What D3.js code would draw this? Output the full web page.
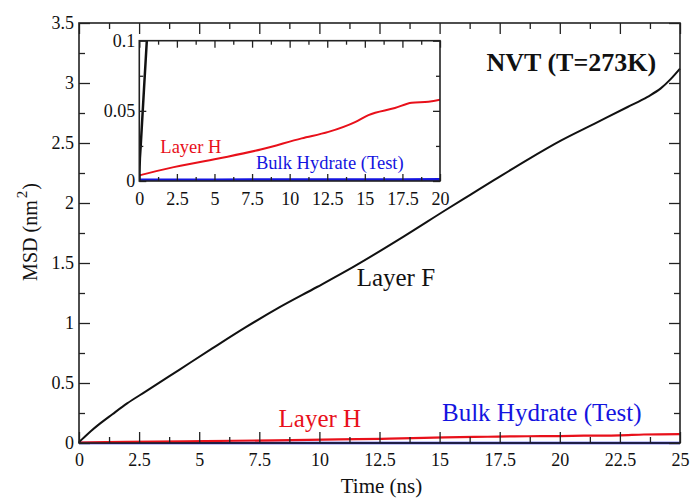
<!DOCTYPE html>
<html>
<head>
<meta charset="utf-8">
<script src="https://cdn.jsdelivr.net/npm/d3@7"></script>
<style>
  body { margin: 0; background: #fff; }
  svg { display: block; }
  svg text { font-family: "Liberation Serif", "Times New Roman", serif; }
</style>
</head>
<body>
<svg width="692" height="498"></svg>
<script>
// Layer F (black) - time in ns, MSD in nm^2
let timeF = [0, 0.02, 0.1, 0.25, 0.5, 0.83, 1.39, 2.0, 2.78, 4.17, 5.56, 6.94, 8.33, 9.9, 11.43, 13.5, 15.32, 16.29, 17.26, 18.65, 20.04, 21.43, 22.82, 23.65, 24.2, 24.6, 25];
let msdF = [0, 0.01, 0.026, 0.054, 0.1, 0.155, 0.24, 0.33, 0.43, 0.61, 0.79, 0.965, 1.13, 1.3, 1.47, 1.72, 1.95, 2.07, 2.19, 2.36, 2.52, 2.66, 2.8, 2.885, 2.955, 3.03, 3.12];

// Layer H (red)
let timeH = [0, 1.93, 5.26, 8.14, 10.8, 12.58, 14.35, 15.24, 17.0, 18.12, 19.23, 20, 21, 22.5, 23.5, 25];
let msdH = [0.004, 0.009, 0.016, 0.0226, 0.0304, 0.035, 0.042, 0.047, 0.052, 0.0558, 0.0565, 0.058, 0.061, 0.064, 0.071, 0.074];

// Bulk Hydrate (Test) (blue)
let timeB = [0, 5, 10, 15, 20, 25];
let msdB = [0.0008, 0.0008, 0.0009, 0.0009, 0.001, 0.001];

// tick labels
let xTicks = [0, 2.5, 5, 7.5, 10, 12.5, 15, 17.5, 20, 22.5, 25];
let yTicks = [0, 0.5, 1, 1.5, 2, 2.5, 3, 3.5];
let insetXTicks = [0, 2.5, 5, 7.5, 10, 12.5, 15, 17.5, 20];
let insetYTicks = [0, 0.05, 0.1];

let red = '#e8101a';
let blue = '#1414e0';

let svg = d3.select('svg');

let zip = (xs, ys) => xs.map((t, i) => [t, ys[i]]);
let seriesF = zip(timeF, msdF);
let seriesH = zip(timeH, msdH);
let seriesB = zip(timeB, msdB);

// minor ticks halfway between the majors
let minors = (ticks) => ticks.slice(1).map((t, i) => (t + ticks[i]) / 2);

// ---------- main plot ----------
let plotLeft = 79, plotRight = 680, plotTop = 23, plotBottom = 443;
let xScale = d3.scaleLinear().domain([0, 25]).range([plotLeft, plotRight]);
let yScale = d3.scaleLinear().domain([0, 3.5]).range([plotBottom, plotTop]);

let drawAxes = (g, xs, ys, xt, yt, major, minor, padX, padY, fontSize) => {
    let x0 = xs.range()[0], x1 = xs.range()[1];
    let y0 = ys.range()[0], y1 = ys.range()[1];
    let fmt = (d) => String(d);

    let addAxis = (axis, transform, labels) => {
        let a = g.append('g').attr('transform', transform).call(axis);
        a.attr('font-family', null).attr('font-size', null);
        a.select('.domain').remove();
        a.selectAll('line').attr('stroke', '#222').attr('stroke-width', 1.3);
        a.selectAll('text')
            .style('font-family', '"Liberation Serif", "Times New Roman", serif')
            .style('font-size', fontSize + 'px')
            .attr('fill', '#111');
        if (!labels) a.selectAll('text').remove();
    };

    // bottom
    addAxis(d3.axisBottom(xs).tickValues(xt).tickSize(-major).tickSizeOuter(0).tickPadding(padX).tickFormat(fmt), 'translate(0,' + y0 + ')', true);
    addAxis(d3.axisBottom(xs).tickValues(minors(xt)).tickSize(-minor).tickSizeOuter(0).tickFormat(''), 'translate(0,' + y0 + ')', false);
    // top
    addAxis(d3.axisTop(xs).tickValues(xt).tickSize(-major).tickSizeOuter(0).tickFormat(''), 'translate(0,' + y1 + ')', false);
    addAxis(d3.axisTop(xs).tickValues(minors(xt)).tickSize(-minor).tickSizeOuter(0).tickFormat(''), 'translate(0,' + y1 + ')', false);
    // left
    addAxis(d3.axisLeft(ys).tickValues(yt).tickSize(-major).tickSizeOuter(0).tickPadding(padY).tickFormat(fmt), 'translate(' + x0 + ',0)', true);
    addAxis(d3.axisLeft(ys).tickValues(minors(yt)).tickSize(-minor).tickSizeOuter(0).tickFormat(''), 'translate(' + x0 + ',0)', false);
    // right
    addAxis(d3.axisRight(ys).tickValues(yt).tickSize(-major).tickSizeOuter(0).tickFormat(''), 'translate(' + x1 + ',0)', false);
    addAxis(d3.axisRight(ys).tickValues(minors(yt)).tickSize(-minor).tickSizeOuter(0).tickFormat(''), 'translate(' + x1 + ',0)', false);

    // frame
    g.append('rect')
        .attr('x', x0).attr('y', y1)
        .attr('width', x1 - x0).attr('height', y0 - y1)
        .attr('fill', 'none').attr('stroke', '#222').attr('stroke-width', 1.6);
};

let mainLine = d3.line().curve(d3.curveMonotoneX)
    .x((d) => xScale(d[0])).y((d) => yScale(d[1]));

let mainG = svg.append('g');
mainG.append('path').datum(seriesB).attr('d', mainLine)
    .attr('fill', 'none').attr('stroke', blue).attr('stroke-width', 2.5);
mainG.append('path').datum(seriesH).attr('d', mainLine)
    .attr('fill', 'none').attr('stroke', red).attr('stroke-width', 2.2);
mainG.append('path').datum(seriesF).attr('d', mainLine)
    .attr('fill', 'none').attr('stroke', '#111').attr('stroke-width', 2);

drawAxes(mainG, xScale, yScale, xTicks, yTicks, 11, 6, 10, 5, 18);

// axis titles
svg.append('text')
    .attr('x', (plotLeft + plotRight) / 2 + 2).attr('y', 493)
    .attr('text-anchor', 'middle').attr('font-size', 21).attr('fill', '#111')
    .text('Time (ns)');

let yTitle = svg.append('text')
    .attr('transform', 'translate(37,' + ((plotTop + plotBottom) / 2 - 1) + ') rotate(-90)')
    .attr('text-anchor', 'middle').attr('font-size', 20).attr('fill', '#111');
yTitle.append('tspan').text('MSD (nm');
yTitle.append('tspan').attr('dy', -10).attr('dx', 2).attr('font-size', 15).text('2');
yTitle.append('tspan').attr('dy', 10).attr('dx', 1).text(')');

// annotations
svg.append('text')
    .attr('x', xScale(16.95)).attr('y', yScale(3.1))
    .attr('font-size', 26).attr('font-weight', 'bold').attr('fill', '#111')
    .text('NVT (T=273K)');
svg.append('text')
    .attr('x', xScale(11.55)).attr('y', yScale(1.31))
    .attr('font-size', 25).attr('fill', '#111')
    .text('Layer F');
svg.append('text')
    .attr('x', xScale(8.3)).attr('y', yScale(0.135))
    .attr('font-size', 25).attr('fill', red)
    .text('Layer H');
svg.append('text')
    .attr('x', xScale(15.1)).attr('y', yScale(0.185))
    .attr('font-size', 25).attr('fill', blue)
    .text('Bulk Hydrate (Test)');

// ---------- inset ----------
let xInset = d3.scaleLinear().domain([0, 20]).range([139.3, 440]);
let yInset = d3.scaleLinear().domain([0, 0.1]).range([181, 40.7]);

let insetG = svg.append('g');
insetG.append('rect')
    .attr('x', xInset(0)).attr('y', yInset(0.1))
    .attr('width', xInset(20) - xInset(0)).attr('height', yInset(0) - yInset(0.1))
    .attr('fill', '#fff');

svg.append('clipPath').attr('id', 'insetClip')
    .append('rect')
    .attr('x', xInset(0)).attr('y', yInset(0.1))
    .attr('width', xInset(20) - xInset(0)).attr('height', yInset(0) - yInset(0.1));

let insetLine = d3.line().curve(d3.curveMonotoneX)
    .x((d) => xInset(d[0])).y((d) => yInset(d[1]));
let insetLines = insetG.append('g').attr('clip-path', 'url(#insetClip)');
insetLines.append('path').datum(seriesB).attr('d', insetLine)
    .attr('fill', 'none').attr('stroke', blue).attr('stroke-width', 3);
insetLines.append('path').datum(seriesH).attr('d', insetLine)
    .attr('fill', 'none').attr('stroke', red).attr('stroke-width', 2);
insetLines.append('path').datum(seriesF).attr('d', insetLine)
    .attr('fill', 'none').attr('stroke', '#111').attr('stroke-width', 2.5);

drawAxes(insetG, xInset, yInset, insetXTicks, insetYTicks, 7, 4, 11, 4, 18);

insetG.append('text')
    .attr('x', xInset(1.4)).attr('y', yInset(0.0198))
    .attr('font-size', 18.5).attr('fill', red)
    .text('Layer H');
insetG.append('text')
    .attr('x', xInset(7.76)).attr('y', yInset(0.0083))
    .attr('font-size', 18.5).attr('fill', blue)
    .text('Bulk Hydrate (Test)');
</script>
</body>
</html>
